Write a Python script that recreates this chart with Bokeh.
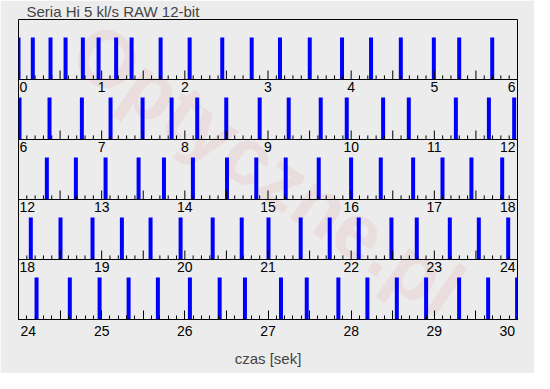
import numpy as np
from bokeh.plotting import figure
from bokeh.models import Range1d, FixedTicker, ColumnDataSource
from bokeh.core.properties import value
from bokeh.embed import file_html
from bokeh.resources import INLINE

# ---------------- data ----------------
title_text = "Seria Hi 5 kl/s RAW 12-bit"
x_axis_title = "czas [sek]"
watermark_text = "Optyczne.pl"
seconds_per_row = 6
row_starts = [0, 6, 12, 18, 24]
# event (shot) times in seconds
event_times = [
    0.000, 0.172, 0.385, 0.566, 0.774, 0.963, 1.174, 1.360, 1.709, 2.058,
    2.450, 2.804, 3.144, 3.502, 3.890, 4.239, 4.597, 4.994, 5.299, 5.696,
    6.012, 6.373, 6.762, 7.107, 7.492, 7.841, 8.149, 8.498, 8.900, 9.249,
    9.634, 9.947, 10.384, 10.693, 11.259, 11.656, 11.960,
    12.341, 12.690, 13.047, 13.444, 13.749, 14.097, 14.507, 14.859, 15.213,
    15.610, 15.999, 16.356, 16.745, 17.098, 17.446, 17.816,
    18.148, 18.505, 18.890, 19.243, 19.588, 19.949, 20.335, 20.684, 21.006,
    21.393, 21.742, 22.091, 22.484, 22.789, 23.186, 23.535, 23.888,
    24.217, 24.617, 24.975, 25.324, 25.676, 26.061, 26.419, 26.723, 27.156,
    27.466, 27.846, 28.195, 28.549, 28.901, 29.298, 29.647, 29.995,
]
bar_level = 0.70          # common bar height (fraction of a strip)
label_ticks = [0, 1, 2, 3, 4, 5, 6]                 # labelled ticks within a strip
half_ticks = [0.5, 1.5, 2.5, 3.5, 4.5, 5.5]         # unlabelled long ticks
minor_ticks = [round(0.1 * i, 1) for i in range(61)]

# ---------------- styles ----------------
BG = "#ececec"
FONT = "Liberation Sans"
NB = "\u00a0" * 5
n_rows = len(row_starts)
major_h = 0.15
minor_h = 0.068

p = figure(width=534, height=373,
           x_range=Range1d(0, seconds_per_row), y_range=Range1d(0, n_rows),
           output_backend="svg", toolbar_location=None, y_axis_location=None,
           min_border_left=18, min_border_right=17, min_border_top=18,
           min_border_bottom=54,
           background_fill_color=BG, border_fill_color=BG,
           outline_line_color="black", outline_line_width=1)
p.grid.visible = False

p.title.text = title_text
p.title.text_font = FONT
p.title.text_font_size = "15px"
p.title.text_font_style = "normal"
p.title.align = "left"
p.title.offset = 8
p.title.standoff = 0

# watermark
p.text(x=[seconds_per_row / 2], y=[n_rows / 2], text=[watermark_text],
       angle=-0.6, text_align="center", text_baseline="middle",
       text_font=value(FONT), text_font_size="80px", text_font_style="bold",
       text_color="#d03030", text_alpha=0.08)

# bars
rows = [min(int(t // seconds_per_row), n_rows - 1) for t in event_times]
bx = [t - row_starts[r] for t, r in zip(event_times, rows)]
bbase = [n_rows - 1 - r for r in rows]
btop = [b + bar_level for b in bbase]
src = ColumnDataSource(dict(x=bx, bottom=bbase, top=btop))
p.vbar(x="x", bottom="bottom", top="top", width=0.048, source=src,
       fill_color="#0000ff", line_color=None)

# inner strip axes (rows 1..4): lines, ticks, labels
sx0, sx1, sy0, sy1 = [], [], [], []
lx, ly, lt, la, lo = [], [], [], [], []
for r in range(n_rows - 1):
    base = n_rows - 1 - r
    sx0.append(0); sx1.append(seconds_per_row); sy0.append(base); sy1.append(base)
    for t in minor_ticks:
        h = major_h if (t in label_ticks or t in half_ticks) else minor_h
        sx0.append(t); sx1.append(t); sy0.append(base); sy1.append(base + h)
    for k in label_ticks:
        lx.append(k); ly.append(base); lt.append(str(row_starts[r] + k))
        if k == label_ticks[0]:
            la.append("left"); lo.append(1)
        elif k == label_ticks[-1]:
            la.append("right"); lo.append(-2)
        else:
            la.append("center"); lo.append(0)
p.segment(x0=sx0, y0=sy0, x1=sx1, y1=sy1, line_color="black", line_width=1)
lsrc = ColumnDataSource(dict(x=lx, y=ly, text=lt, align=la, off=lo))
p.text(x="x", y="y", text="text", text_align="align", x_offset="off",
       y_offset=2, text_baseline="top", source=lsrc,
       text_font=value(FONT), text_font_size="14px", text_color="black")

# bottom strip: real axis
last = row_starts[-1]
ax = p.xaxis[0]
ax.ticker = FixedTicker(ticks=sorted(label_ticks + half_ticks), minor_ticks=minor_ticks)
overrides = {float(t): "" for t in half_ticks}
for k in label_ticks:
    overrides[float(k)] = str(last + k)
overrides[float(label_ticks[0])] = NB + str(last + label_ticks[0])
overrides[float(label_ticks[-1])] = str(last + label_ticks[-1]) + NB
ax.major_label_overrides = overrides
ax.major_tick_in = 9
ax.major_tick_out = 0
ax.minor_tick_in = 4
ax.minor_tick_out = 0
ax.axis_line_color = "black"
ax.major_tick_line_color = "black"
ax.minor_tick_line_color = "black"
ax.major_label_text_font = FONT
ax.major_label_text_font_size = "14px"
ax.major_label_text_color = "black"
ax.major_label_standoff = 3
ax.axis_label = x_axis_title
ax.axis_label_text_font = FONT
ax.axis_label_text_font_size = "15px"
ax.axis_label_text_font_style = "normal"
ax.axis_label_standoff = 8

open("out.html", "w").write(file_html(p, INLINE))
